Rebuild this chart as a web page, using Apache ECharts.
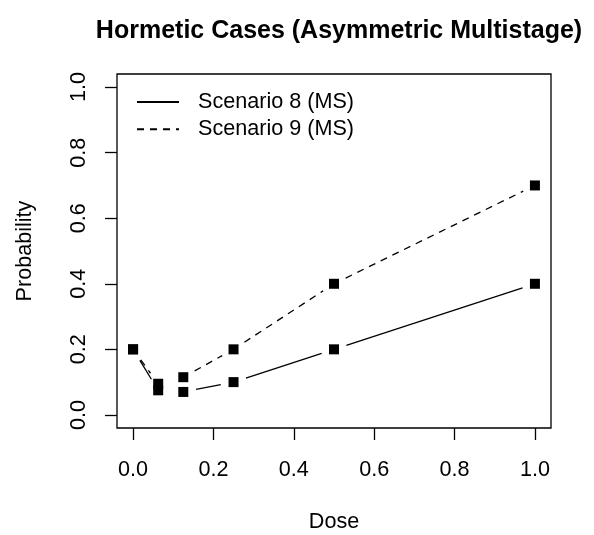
<!DOCTYPE html>
<html>
<head>
<meta charset="utf-8">
<script src="https://cdn.jsdelivr.net/npm/echarts@6/dist/echarts.min.js"></script>
<style>html,body{margin:0;padding:0;background:#fff}#c{width:594px;height:535px}</style>
</head>
<body>
<div id="c"></div>
<script>
var titleText = 'Hormetic Cases (Asymmetric Multistage)';
var xName = 'Dose';
var yName = 'Probability';
var doses = [0, 0.0625, 0.125, 0.25, 0.5, 1];
var scenario8 = [0.2, 0.075, 0.07, 0.1, 0.2, 0.4];
var scenario9 = [0.2, 0.095, 0.115, 0.2, 0.4, 0.7];
var seriesNames = ['Scenario 8 (MS)', 'Scenario 9 (MS)'];
var xTicks = [0, 0.2, 0.4, 0.6, 0.8, 1.0];
var yTicks = [0, 0.2, 0.4, 0.6, 0.8, 1.0];

var FONT = '"Liberation Sans", Arial, Helvetica, sans-serif';
var FS = 21.6;
var GAP = 13;

function pts(ys) { return doses.map(function (d, i) { return [d, ys[i]]; }); }
function segs(ys) {
  var out = [];
  for (var i = 0; i < doses.length - 1; i++) out.push([doses[i], ys[i], doses[i + 1], ys[i + 1]]);
  return out;
}
function makeRender(dash) {
  return function (params, api) {
    var p1 = api.coord([api.value(0), api.value(1)]);
    var p2 = api.coord([api.value(2), api.value(3)]);
    var dx = p2[0] - p1[0], dy = p2[1] - p1[1];
    var L = Math.sqrt(dx * dx + dy * dy);
    if (L <= 2 * GAP) return null;
    var ux = dx / L, uy = dy / L;
    return {
      type: 'line',
      shape: { x1: p1[0] + ux * GAP, y1: p1[1] + uy * GAP, x2: p2[0] - ux * GAP, y2: p2[1] - uy * GAP },
      style: { stroke: '#000', lineWidth: 1.3, lineDash: dash }
    };
  };
}

var chart = echarts.init(document.getElementById('c'), null, { renderer: 'canvas' });
chart.setOption({
  animation: false,
  backgroundColor: '#fff',
  title: {
    text: titleText, left: 334, top: 14, textAlign: 'center',
    textStyle: { fontFamily: FONT, fontSize: 25, fontWeight: 'bold', color: '#000' }
  },
  grid: { left: 117, right: 43, top: 74, bottom: 107, outerBoundsMode: 'none', containLabel: false, show: true, borderColor: '#000', borderWidth: 1.3, backgroundColor: 'transparent' },
  legend: {
    data: seriesNames, orient: 'vertical', left: 136, top: 91, padding: 0, itemWidth: 42, itemHeight: 14, itemGap: 5.3,
    selectedMode: false,
    itemStyle: { opacity: 0 },
    textStyle: { fontFamily: FONT, fontSize: FS, color: '#000', lineHeight: 22, padding: [0, 0, 0, 14] }
  },
  xAxis: {
    type: 'value', min: -0.04, max: 1.04,
    name: xName, nameLocation: 'middle', nameGap: 83,
    nameTextStyle: { fontFamily: FONT, fontSize: FS, color: '#000' },
    axisLine: { show: false, onZero: false },
    splitLine: { show: false },
    axisTick: { show: true, inside: false, length: 12, customValues: xTicks, lineStyle: { color: '#000', width: 1.3 } },
    axisLabel: { customValues: xTicks, margin: 31, fontFamily: FONT, fontSize: FS, color: '#000', formatter: function (v) { return v.toFixed(1); } }
  },
  yAxis: {
    type: 'value', min: -0.04, max: 1.04,
    name: yName, nameLocation: 'middle', nameGap: 81,
    nameTextStyle: { fontFamily: FONT, fontSize: FS, color: '#000' },
    axisLine: { show: false, onZero: false },
    splitLine: { show: false },
    axisTick: { show: true, inside: false, length: 12, customValues: yTicks, lineStyle: { color: '#000', width: 1.3 } },
    axisLabel: { customValues: yTicks, rotate: 90, margin: 27, fontFamily: FONT, fontSize: FS, color: '#000', formatter: function (v) { return v.toFixed(1); } }
  },
  series: [
    { name: seriesNames[0], type: 'line', data: [], symbol: 'none', lineStyle: { color: '#000', width: 1.3, type: 'solid' }, itemStyle: { color: '#000' } },
    { name: seriesNames[1], type: 'line', data: [], symbol: 'none', lineStyle: { color: '#000', width: 1.3, type: [7, 6] }, itemStyle: { color: '#000' } },
    { name: 's8seg', type: 'custom', data: segs(scenario8), encode: { x: [0, 2], y: [1, 3] }, renderItem: makeRender(null), silent: true },
    { name: 's9seg', type: 'custom', data: segs(scenario9), encode: { x: [0, 2], y: [1, 3] }, renderItem: makeRender([7, 6]), silent: true },
    { name: 's8pts', type: 'scatter', data: pts(scenario8), symbol: 'rect', symbolSize: 10, itemStyle: { color: '#000', opacity: 1 }, silent: true, z: 5 },
    { name: 's9pts', type: 'scatter', data: pts(scenario9), symbol: 'rect', symbolSize: 10, itemStyle: { color: '#000', opacity: 1 }, silent: true, z: 5 }
  ]
});
</script>
</body>
</html>
